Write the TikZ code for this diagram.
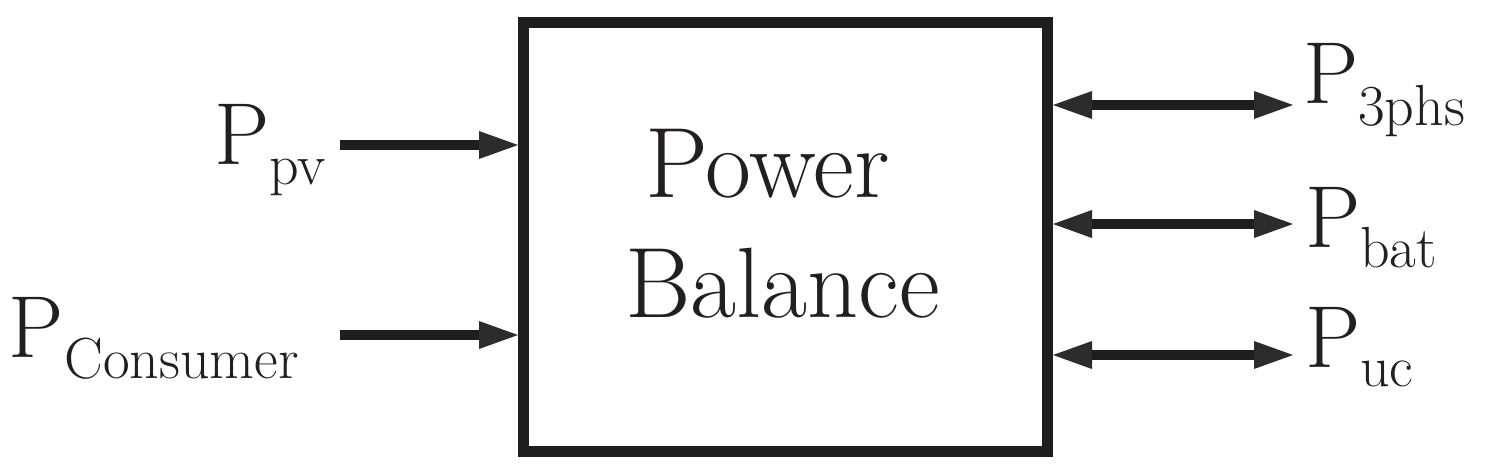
\documentclass[tikz,border=0pt]{standalone}
\usetikzlibrary{arrows.meta}
\definecolor{ink}{RGB}{30,30,30}
\definecolor{headc}{RGB}{45,43,46}
\definecolor{txt}{RGB}{35,31,32}
\newcommand{\plabel}[2]{{\fontsize{88}{100}\selectfont P}\raisebox{-#2}{\fontsize{58}{70}\selectfont #1}}
\tikzset{
  tipT/.tip={Triangle[length=39pt,width=28pt,line width=0pt,color=headc]},
  flow/.style={draw=ink, line width=10pt, -tipT},
  dflow/.style={draw=ink, line width=10pt, tipT-tipT},
  lbl/.style={inner sep=0pt, outer sep=0pt, text=txt, anchor=base west},
  big/.style={inner sep=0pt, text=txt, anchor=base, font=\fontsize{100}{120}\selectfont},
  blockbox/.style={draw=ink, line width=11pt, minimum width=524pt, minimum height=429pt, inner sep=0pt}
}
\begin{document}
\begin{tikzpicture}[x=1pt,y=-1pt]
\useasboundingbox (0,0) rectangle (1490,469);
\node[blockbox] (box) at (785.5,237) {};
\node[big] (power) at (767.5,197) {Power};
\node[big] (balance) at (782.5,317) {Balance};
% left labels
\node[lbl, anchor=base east] (ppv) at (326,164) {\plabel{pv}{20pt}};
\node[lbl] (pcons) at (9,357) {\plabel{Consumer}{21pt}};
% right labels
\node[lbl] (p3) at (1303,103) {\plabel{3phs}{22pt}};
\node[lbl] (pbat) at (1305,247) {\plabel{bat}{20pt}};
\node[lbl] (puc) at (1305,367) {\plabel{uc}{19pt}};
% connector ends
\coordinate (spv) at (340,145);
\coordinate (scons) at (340,335);
\coordinate (e3) at (1293,105);
\coordinate (ebat) at (1293,224);
\coordinate (euc) at (1293,355);
\draw[flow] (spv) -- (spv -| box.west);
\draw[flow] (scons) -- (scons -| box.west);
\draw[dflow] (e3 -| box.east) -- (e3);
\draw[dflow] (ebat -| box.east) -- (ebat);
\draw[dflow] (euc -| box.east) -- (euc);
\end{tikzpicture}
\end{document}
